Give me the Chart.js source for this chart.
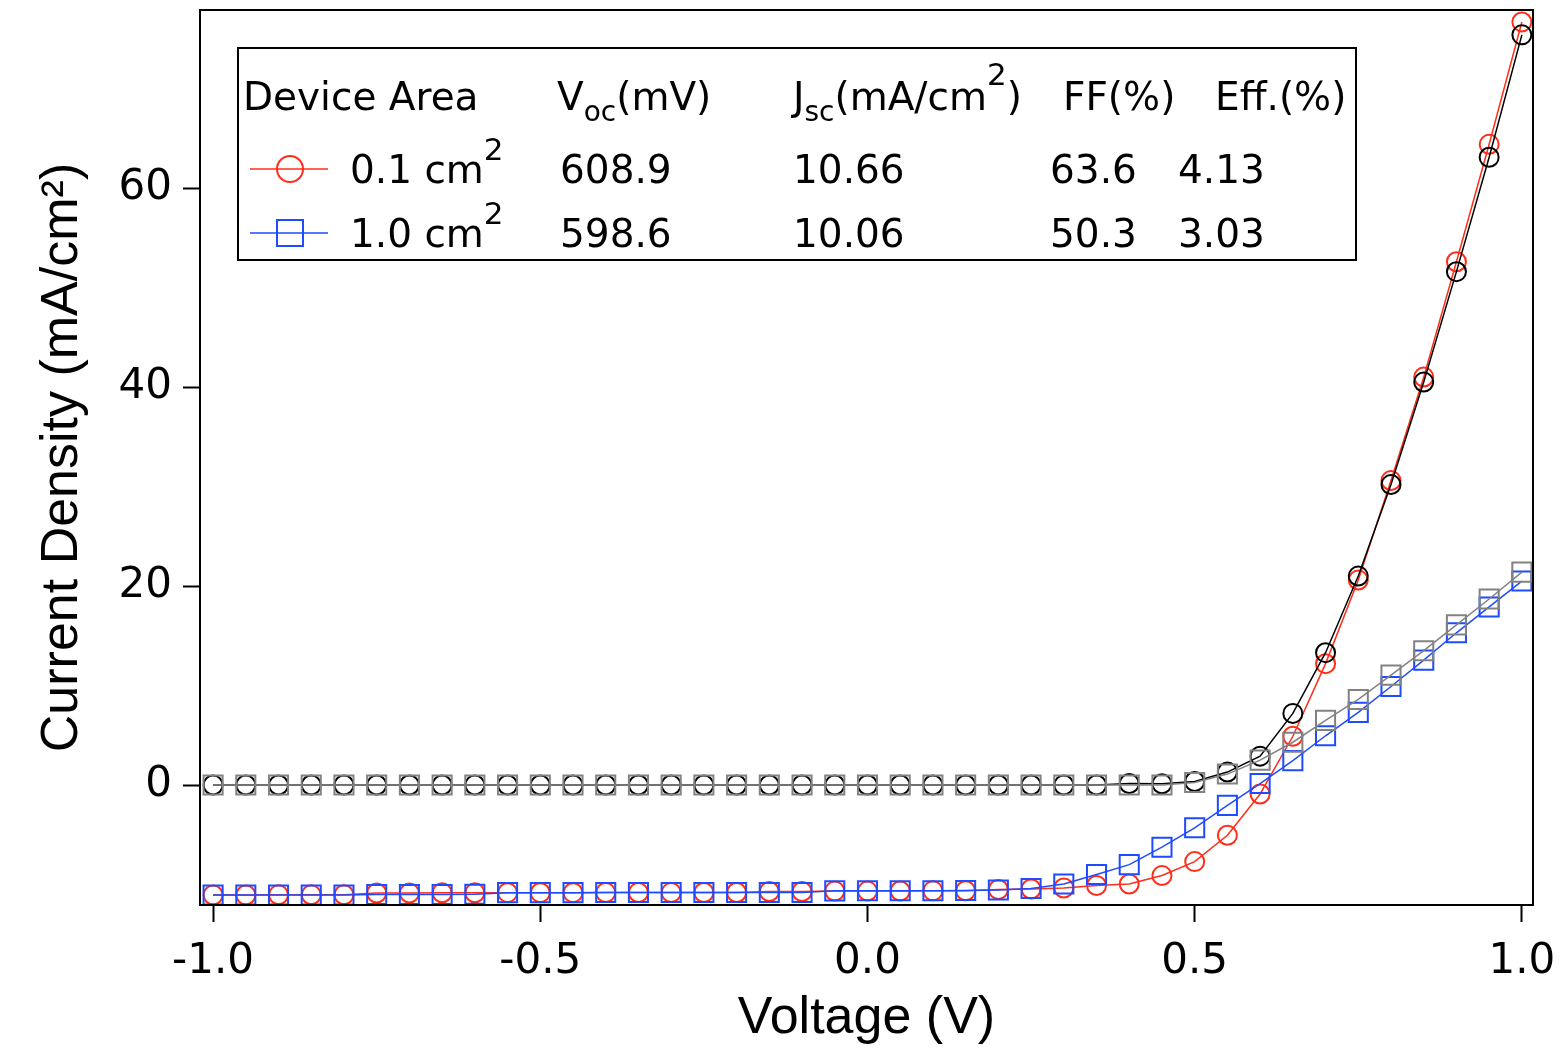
<!DOCTYPE html>
<html>
<head>
<meta charset="utf-8">
<script src="https://cdn.jsdelivr.net/npm/chart.js@4.4.0/dist/chart.umd.min.js"></script>
<style>
  html, body { margin: 0; padding: 0; background: #fff; }
  canvas { display: block; }
</style>
</head>
<body>
<canvas id="myChart" width="1563" height="1050"></canvas>
<script>
// voltage sweep (V)
const voltage = [
  -1.0, -0.95, -0.9, -0.85, -0.8, -0.75, -0.7, -0.65, -0.6, -0.55,
  -0.5, -0.45, -0.4, -0.35, -0.3, -0.25, -0.2, -0.15, -0.1, -0.05,
  0.0, 0.05, 0.1, 0.15, 0.2, 0.25, 0.3, 0.35, 0.4, 0.45,
  0.5, 0.55, 0.6, 0.65, 0.7, 0.75, 0.8, 0.85, 0.9, 0.95, 1.0
];

// 0.1 cm2 device, illuminated (red circles)
const small_light = [
  -11.05, -11.05, -11.04, -11.04, -11.03, -10.85, -10.85, -10.84, -10.84, -10.82,
  -10.82, -10.82, -10.81, -10.81, -10.81, -10.8, -10.8, -10.7, -10.7, -10.66,
  -10.66, -10.65, -10.64, -10.63, -10.5, -10.45, -10.35, -10.1, -9.95, -9.1,
  -7.7, -5.05, -0.9, 4.9, 12.2, 20.6, 30.6, 41.0, 52.6, 64.4, 76.7
];
// 0.1 cm2 device, dark (black circles)
const small_dark = [
  0, 0, 0, 0, 0, 0, 0, 0, 0, 0,
  0, 0, 0, 0, 0, 0, 0, 0, 0, 0,
  0, 0, 0, 0, 0, 0, 0, 0, 0.15, 0.12,
  0.35, 1.3, 2.9, 7.2, 13.3, 21.0, 30.2, 40.5, 51.6, 63.1, 75.4
];
// 1.0 cm2 device, illuminated (blue squares)
const large_light = [
  -11.06, -11.06, -11.06, -11.06, -11.05, -11.0, -11.0, -11.0, -10.98, -10.82,
  -10.82, -10.82, -10.81, -10.81, -10.8, -10.8, -10.8, -10.8, -10.8, -10.64,
  -10.63, -10.63, -10.62, -10.6, -10.55, -10.4, -9.95, -9.0, -8.0, -6.25,
  -4.3, -2.05, 0.15, 2.45, 4.95, 7.3, 9.9, 12.55, 15.3, 17.9, 20.5
];
// 1.0 cm2 device, dark (gray squares)
const large_dark = [
  0, 0, 0, 0, 0, 0, 0, 0, 0, 0,
  0, 0, 0, 0, 0, 0, 0, 0, 0, 0,
  0, 0, 0, 0, 0, 0, 0, 0, 0, 0,
  0.25, 1.1, 2.5, 4.3, 6.5, 8.6, 11.05, 13.5, 16.1, 18.7, 21.4
];

const xTicks = [-1.0, -0.5, 0.0, 0.5, 1.0];
const yTicks = [0, 20, 40, 60];

// legend table
const areaLabels = ["0.1 cm", "1.0 cm"];
const vocVals = ["608.9", "598.6"];
const jscVals = ["10.66", "10.06"];
const ffVals = ["63.6", "50.3"];
const effVals = ["4.13", "3.03"];

const RED = "rgb(255,45,25)";
const BLUE = "rgb(30,75,255)";
const BLACK = "#000";
const GRAY = "rgb(130,130,130)";

function pts(ys) {
  return voltage.map((v, i) => ({ x: v, y: ys[i] }));
}

function series(ys, color, shape) {
  return {
    data: pts(ys),
    borderColor: color,
    borderWidth: 1.5,
    pointStyle: shape,
    pointRadius: shape == "rect" ? 13.5 : 9.5,
    pointBorderColor: color,
    pointBorderWidth: 2,
    pointBackgroundColor: "rgba(0,0,0,0)",
    tension: 0,
    fill: false,
    clip: false,
  };
}

// draw text pieces with sub/superscripts, returns end x
function rich(ctx, parts, x, y) {
  parts.forEach((p) => {
    ctx.font = (p.size || 39) + 'px "DejaVu Sans"';
    ctx.fillText(p.t, x, y + (p.dy || 0));
    x += ctx.measureText(p.t).width;
  });
  return x;
}

const framePlugin = {
  id: "frame",
  afterDraw(chart) {
    const { ctx, chartArea } = chart;
    ctx.save();
    ctx.strokeStyle = "#000";
    ctx.lineWidth = 2;
    ctx.strokeRect(chartArea.left, chartArea.top, chartArea.right - chartArea.left, chartArea.bottom - chartArea.top);

    // legend box
    ctx.strokeRect(238, 48, 1118, 212);
    ctx.fillStyle = "#000";
    ctx.textBaseline = "alphabetic";
    ctx.textAlign = "left";

    rich(ctx, [{ t: "Device Area" }], 243, 110);
    rich(ctx, [{ t: "V" }, { t: "oc", size: 28, dy: 11 }, { t: "(mV)" }], 557, 110);
    rich(ctx, [{ t: "J" }, { t: "sc", size: 28, dy: 11 }, { t: "(mA/cm" }, { t: "2", size: 31, dy: -25 }, { t: ")" }], 793, 110);
    rich(ctx, [{ t: "FF(%)" }], 1063, 110);
    rich(ctx, [{ t: "Eff.(%)" }], 1215, 110);

    const rowY = [183, 247];
    const colors = [RED, BLUE];
    for (let i = 0; i < 2; i++) {
      const cy = rowY[i] - 14;
      ctx.strokeStyle = colors[i];
      ctx.lineWidth = 1.5;
      ctx.beginPath();
      ctx.moveTo(250, cy);
      ctx.lineTo(328, cy);
      ctx.stroke();
      ctx.lineWidth = 2;
      ctx.beginPath();
      if (i == 0) ctx.arc(290, cy, 13, 0, Math.PI * 2);
      else ctx.rect(277, cy - 13, 26, 26);
      ctx.stroke();

      ctx.fillStyle = "#000";
      rich(ctx, [{ t: areaLabels[i] }, { t: "2", size: 31, dy: -23 }], 350, rowY[i]);
      rich(ctx, [{ t: vocVals[i] }], 560, rowY[i]);
      rich(ctx, [{ t: jscVals[i] }], 793, rowY[i]);
      rich(ctx, [{ t: ffVals[i] }], 1050, rowY[i]);
      rich(ctx, [{ t: effVals[i] }], 1178, rowY[i]);
    }
    ctx.restore();
  },
};

const titleFont = { family: "Liberation Sans", size: 52 };

const config = {
  type: "line",
  data: {
    datasets: [
      series(large_dark, GRAY, "rect"),
      series(small_dark, BLACK, "circle"),
      series(large_light, BLUE, "rect"),
      series(small_light, RED, "circle"),
    ],
  },
  options: {
    responsive: false,
    animation: false,
    events: [],
    layout: { autoPadding: false, padding: { top: 10, right: 30, left: 0, bottom: 0 } },
    plugins: { legend: { display: false }, tooltip: { enabled: false } },
    scales: {
      x: {
        type: "linear",
        min: -1.02,
        max: 1.017,
        afterBuildTicks: (s) => { s.ticks = xTicks.map((v) => ({ value: v })); },
        afterFit: (s) => { s.height = 145; s.paddingLeft = 0; s.paddingRight = 0; },
        grid: { drawOnChartArea: false, drawTicks: true, tickLength: 17, tickWidth: 2, tickColor: "#000" },
        border: { display: true, color: "#000", width: 2 },
        ticks: { color: "#000", font: { family: "DejaVu Sans", size: 42 }, padding: 15, maxRotation: 0, callback: (v) => v.toFixed(1) },
        title: { display: true, text: "Voltage (V)", color: "#000", font: titleFont, padding: { top: 0, bottom: 0 } },
      },
      y: {
        type: "linear",
        min: -12.06,
        max: 77.9,
        afterBuildTicks: (s) => { s.ticks = yTicks.map((v) => ({ value: v })); },
        afterFit: (s) => { s.width = 200; s.paddingTop = 0; s.paddingBottom = 0; },
        grid: { drawOnChartArea: false, drawTicks: true, tickLength: 17, tickWidth: 2, tickColor: "#000" },
        border: { display: true, color: "#000", width: 2 },
        ticks: { color: "#000", font: { family: "DejaVu Sans", size: 42 }, padding: 11, callback: (v) => v },
        title: { display: true, text: "Current Density (mA/cm²)", color: "#000", font: titleFont, padding: { top: 31, bottom: 0 } },
      },
    },
  },
  plugins: [framePlugin],
};

new Chart(document.getElementById("myChart"), config);
</script>
</body>
</html>
